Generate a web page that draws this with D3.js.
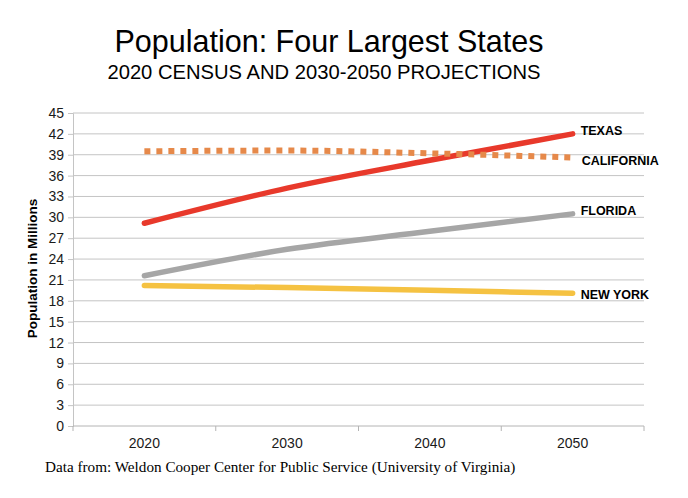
<!DOCTYPE html>
<html>
<head>
<meta charset="utf-8">
<script src="https://cdn.jsdelivr.net/npm/d3@7"></script>
<style>
  body { margin: 0; background: #fff; }
  svg { display: block; }
</style>
</head>
<body>
<div class="svgcontainer"></div>
<script>
// data (millions)
const years = ["2020", "2030", "2040", "2050"];
const texas = [29.15, 34.2, 38.2, 42.0];
const california = [39.5, 39.6, 39.2, 38.6];
const florida = [21.6, 25.4, 28.0, 30.5];
const newYork = [20.2, 19.9, 19.5, 19.1];
const yTicks = d3.range(0, 46, 3);

const series = [
    { name: "TEXAS", values: texas, color: "#e8392b", dash: null, dy: -3 },
    { name: "CALIFORNIA", values: california, color: "#e6894a", dash: "6,6", dy: 3 },
    { name: "FLORIDA", values: florida, color: "#a6a6a6", dash: null, dy: -3 },
    { name: "NEW YORK", values: newYork, color: "#f5c242", dash: null, dy: 1 }
];

function drawChart() {
    const W = 688, H = 498;
    const margin = { top: 113, right: 44, bottom: 72, left: 73 };
    const width = W - margin.left - margin.right;
    const height = H - margin.top - margin.bottom;

    const svg = d3.select('.svgcontainer')
        .append('svg')
        .attr('width', W)
        .attr('height', H)
        .style('font-family', '"Liberation Sans", Arial, sans-serif');

    // titles
    svg.append('text')
        .attr('x', 329).attr('y', 52)
        .attr('text-anchor', 'middle')
        .attr('font-size', 30.5)
        .attr('fill', '#000')
        .text('Population: Four Largest States');

    svg.append('text')
        .attr('x', 324).attr('y', 79)
        .attr('text-anchor', 'middle')
        .attr('font-size', 20.2)
        .attr('fill', '#000')
        .text('2020 CENSUS AND 2030-2050 PROJECTIONS');

    const g = svg.append('g')
        .attr('transform', `translate(${margin.left}, ${margin.top})`);

    const x = d3.scaleBand().domain(years).range([0, width]).padding(0);
    const y = d3.scaleLinear().domain([0, 45]).range([height, 0]);
    const cx = d => x(d) + x.bandwidth() / 2;

    // horizontal gridlines
    g.selectAll('.grid')
        .data(yTicks.filter(t => t > 0))
        .enter()
        .append('line')
        .attr('class', 'grid')
        .attr('x1', 0).attr('x2', width)
        .attr('y1', d => y(d)).attr('y2', d => y(d))
        .attr('stroke', '#c4c4c4')
        .attr('stroke-width', 1);

    // y axis
    const yAxis = g.append('g')
        .call(d3.axisLeft(y).tickValues(yTicks).tickSize(5).tickPadding(4));
    yAxis.select('.domain').attr('stroke', '#c4c4c4');
    yAxis.selectAll('.tick line').attr('stroke', '#c4c4c4');
    yAxis.selectAll('.tick text')
        .attr('font-size', 14)
        .attr('fill', '#1a1a1a')
        .style('font-family', '"Liberation Sans", Arial, sans-serif');

    // x axis, ticks on band edges
    const xAxisG = g.append('g').attr('transform', `translate(0, ${height})`);
    xAxisG.append('line')
        .attr('x1', 0).attr('x2', width)
        .attr('stroke', '#b4b4b4');
    const edges = years.map(d => x(d)).concat([width]);
    xAxisG.selectAll('.xtick')
        .data(edges)
        .enter()
        .append('line')
        .attr('x1', d => d).attr('x2', d => d)
        .attr('y1', 0).attr('y2', 5)
        .attr('stroke', '#b4b4b4');
    xAxisG.selectAll('.xlabel')
        .data(years)
        .enter()
        .append('text')
        .attr('x', d => cx(d))
        .attr('y', 22)
        .attr('text-anchor', 'middle')
        .attr('font-size', 14)
        .attr('fill', '#1a1a1a')
        .text(d => d);

    // y axis title
    svg.append('text')
        .attr('transform', `translate(37, ${margin.top + height / 2 - 1}) rotate(-90)`)
        .attr('text-anchor', 'middle')
        .attr('font-size', 13.5)
        .attr('font-weight', 'bold')
        .attr('fill', '#000')
        .text('Population in Millions');

    // lines
    const line = d3.line()
        .x((d, i) => cx(years[i]))
        .y(d => y(d))
        .curve(d3.curveMonotoneX);

    series.forEach(s => {
        g.append('path')
            .datum(s.values)
            .attr('fill', 'none')
            .attr('stroke', s.color)
            .attr('stroke-width', s.dash ? 6 : 5.5)
            .attr('stroke-linecap', s.dash ? 'butt' : 'round')
            .attr('stroke-dasharray', s.dash)
            .attr('d', line);

        g.append('text')
            .attr('x', cx(years[years.length - 1]) + (s.dash ? 9 : 8))
            .attr('y', y(s.values[s.values.length - 1]) + s.dy)
            .attr('dy', '0.35em')
            .attr('font-size', 12.5)
            .attr('font-weight', 'bold')
            .attr('fill', '#000')
            .text(s.name);
    });

    // source note
    svg.append('text')
        .attr('x', 45).attr('y', 472)
        .attr('font-family', '"Liberation Serif", "Times New Roman", serif')
        .attr('font-size', 15.2)
        .attr('fill', '#000')
        .text('Data from: Weldon Cooper Center for Public Service (University  of Virginia)');
}

drawChart();
</script>
</body>
</html>
